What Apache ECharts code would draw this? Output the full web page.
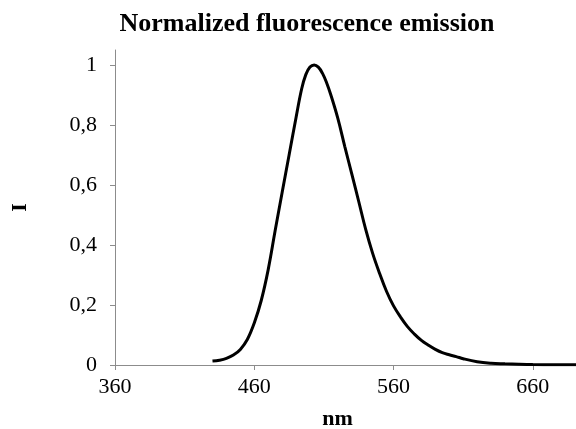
<!DOCTYPE html>
<html>
<head>
<meta charset="utf-8">
<script src="https://cdn.jsdelivr.net/npm/echarts@6/dist/echarts.min.js"></script>
<style>html,body{margin:0;padding:0;background:#fff;}#c{width:576px;height:429px;}</style>
</head>
<body>
<div id="c"></div>
<script>
var wavelengths = [430,435,440,445,450,455,460,465,470,475,480,485,490,494,497,500,503,506,509,512,515,520,525,530,535,540,545,550,555,560,565,570,575,580,585,590,595,600,605,610,620,630,640,650,660,675,691];
var intensity = [0.013,0.016,0.022,0.033,0.052,0.085,0.140,0.215,0.318,0.448,0.575,0.700,0.825,0.920,0.968,0.993,1.000,0.993,0.972,0.940,0.900,0.822,0.728,0.637,0.545,0.452,0.372,0.305,0.245,0.197,0.160,0.128,0.103,0.082,0.066,0.052,0.041,0.034,0.028,0.021,0.011,0.006,0.004,0.0025,0.0015,0.001,0.001];
var xTicks = [360,460,560,660];
var yTicks = [0,0.2,0.4,0.6,0.8,1];
var titleText = 'Normalized fluorescence emission';
var xName = 'nm';
var yName = 'I';

var FONT = "'Liberation Serif','Times New Roman',serif";
var data = wavelengths.map(function(w,i){return [w,intensity[i]];});
var chart = echarts.init(document.getElementById('c'));
chart.setOption({
  animation:false,
  backgroundColor:'#fff',
  title:{text:titleText,left:302,textAlign:'center',top:6,
    textStyle:{fontFamily:FONT,fontWeight:'bold',fontSize:26,color:'#000'}},
  grid:{left:115,right:0,top:50,bottom:64,outerBoundsMode:'none',containLabel:false},
  xAxis:{type:'value',min:360,max:691,
    name:xName,nameLocation:'middle',nameGap:43,
    nameTextStyle:{fontFamily:FONT,fontWeight:'bold',fontSize:22,color:'#000',padding:[0,16,0,0]},
    axisLine:{show:true,lineStyle:{color:'#8c8c8c',width:1}},
    axisTick:{show:true,length:5,lineStyle:{color:'#8c8c8c'},customValues:xTicks},
    axisLabel:{fontFamily:FONT,fontSize:22,color:'#000',margin:11,customValues:xTicks},
    splitLine:{show:false}},
  yAxis:{type:'value',min:0,max:1.05,
    name:yName,nameLocation:'middle',nameGap:84,nameRotate:90,
    nameTextStyle:{fontFamily:FONT,fontWeight:'bold',fontSize:22,color:'#000'},
    axisLine:{show:true,lineStyle:{color:'#8c8c8c',width:1}},
    axisTick:{show:true,length:5,lineStyle:{color:'#8c8c8c'},customValues:yTicks},
    axisLabel:{fontFamily:FONT,fontSize:22,color:'#000',margin:18,customValues:yTicks,
      formatter:function(v){return String(+v.toFixed(2)).replace('.',',');}},
    splitLine:{show:false}},
  series:[{type:'line',data:data,showSymbol:false,smooth:0.4,
    lineStyle:{color:'#000',width:3},clip:true}]
});
</script>
</body>
</html>
